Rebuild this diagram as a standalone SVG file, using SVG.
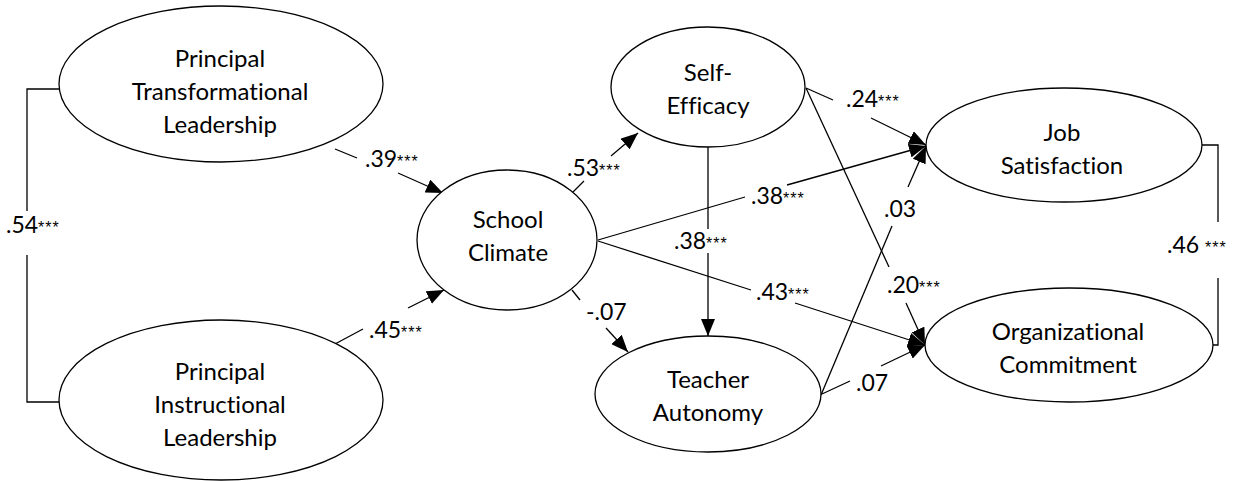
<svg xmlns="http://www.w3.org/2000/svg" width="1236" height="481" viewBox="0 0 1236 481">
<style>
.n{fill:#fff;stroke:#000;stroke-width:1.3}
.t{font-family:Lato,"Liberation Sans",sans-serif;font-size:24px;fill:#000;text-anchor:middle;font-variant-ligatures:none}
.l{font-family:Lato,"Liberation Sans",sans-serif;font-size:23px;fill:#000}
.s{font-family:"Liberation Sans",Arial,sans-serif;font-size:16px;letter-spacing:1px}
.c{fill:none;stroke:#000;stroke-width:1.3}
</style>
<defs>
<marker id="ah" markerUnits="userSpaceOnUse" markerWidth="18" markerHeight="14" refX="17" refY="7" orient="auto">
<path d="M0,0 L17,7 L0,14 z" fill="#000"/>
</marker>
</defs>
<g id="connectors">
<polyline class="c" points="59,89 27,89 27,211"/>
<polyline class="c" points="27,255 27,402 59,402"/>
<polyline class="c" points="1202,145 1218,145 1218,222"/>
<polyline class="c" points="1218,278 1218,345 1213,345"/>
<line class="c" x1="335" y1="149" x2="357" y2="158"/>
<line class="c" x1="398" y1="173" x2="443" y2="193" marker-end="url(#ah)"/>
<line class="c" x1="335" y1="344" x2="363" y2="329"/>
<line class="c" x1="408" y1="308" x2="444" y2="290" marker-end="url(#ah)"/>
<line class="c" x1="573" y1="192" x2="584" y2="181"/>
<line class="c" x1="611" y1="156" x2="638" y2="133" marker-end="url(#ah)"/>
<line class="c" x1="708" y1="147" x2="708" y2="229"/>
<line class="c" x1="708" y1="253" x2="708" y2="336" marker-end="url(#ah)"/>
<line class="c" x1="598" y1="240" x2="745" y2="197"/>
<line class="c" x1="787" y1="185" x2="926" y2="146" marker-end="url(#ah)"/>
<line class="c" x1="598" y1="241" x2="751" y2="290"/>
<line class="c" x1="795" y1="303" x2="925" y2="345" marker-end="url(#ah)"/>
<line class="c" x1="572" y1="290" x2="580" y2="300"/>
<line class="c" x1="606" y1="328" x2="628" y2="352" marker-end="url(#ah)"/>
<line class="c" x1="806" y1="88" x2="833" y2="100"/>
<line class="c" x1="871" y1="118" x2="926" y2="145" marker-end="url(#ah)"/>
<line class="c" x1="806" y1="88" x2="889" y2="267"/>
<line class="c" x1="906" y1="303" x2="925" y2="345" marker-end="url(#ah)"/>
<line class="c" x1="821" y1="395" x2="892" y2="226"/>
<line class="c" x1="908" y1="187" x2="926" y2="146" marker-end="url(#ah)"/>
<line class="c" x1="822" y1="394" x2="850" y2="381"/>
<line class="c" x1="881" y1="366" x2="925" y2="345" marker-end="url(#ah)"/>
</g>
<g id="labels">
<text class="l" x="6" y="233">.54<tspan class="s">***</tspan></text>
<text class="l" x="365" y="167">.39<tspan class="s">***</tspan></text>
<text class="l" x="369" y="338">.45<tspan class="s">***</tspan></text>
<text class="l" x="567" y="176">.53<tspan class="s">***</tspan></text>
<text class="l" x="674" y="249">.38<tspan class="s">***</tspan></text>
<text class="l" x="751" y="204">.38<tspan class="s">***</tspan></text>
<text class="l" x="756" y="300">.43<tspan class="s">***</tspan></text>
<text class="l" x="586" y="320">-.07</text>
<text class="l" x="846" y="107">.24<tspan class="s">***</tspan></text>
<text class="l" x="884" y="217">.03</text>
<text class="l" x="887" y="293">.20<tspan class="s">***</tspan></text>
<text class="l" x="856" y="391">.07</text>
<text class="l" x="1167" y="253">.46 <tspan class="s">***</tspan></text>
</g>
<g id="ptl">
<ellipse class="n" cx="221" cy="84" rx="162" ry="78"/>
<text class="t" x="220" y="66.5">Principal</text>
<text class="t" x="220" y="99.5">Transformational</text>
<text class="t" x="220" y="132.5">Leadership</text>
</g>
<g id="pil">
<ellipse class="n" cx="221" cy="400" rx="162" ry="80"/>
<text class="t" x="220" y="380">Principal</text>
<text class="t" x="220" y="413">Instructional</text>
<text class="t" x="220" y="446">Leadership</text>
</g>
<g id="sc">
<ellipse class="n" cx="507" cy="240" rx="90" ry="70"/>
<text class="t" x="508" y="228">School</text>
<text class="t" x="508" y="261">Climate</text>
</g>
<g id="se">
<ellipse class="n" cx="708" cy="87" rx="97" ry="60"/>
<text class="t" x="708" y="81">Self-</text>
<text class="t" x="708" y="114">Efficacy</text>
</g>
<g id="ta">
<ellipse class="n" cx="708" cy="394" rx="113" ry="58"/>
<text class="t" x="708" y="388">Teacher</text>
<text class="t" x="708" y="421">Autonomy</text>
</g>
<g id="js">
<ellipse class="n" cx="1064" cy="145" rx="138" ry="57"/>
<text class="t" x="1062" y="141">Job</text>
<text class="t" x="1062" y="174">Satisfaction</text>
</g>
<g id="oc">
<ellipse class="n" cx="1069" cy="345" rx="144" ry="57"/>
<text class="t" x="1068" y="340">Organizational</text>
<text class="t" x="1068" y="373">Commitment</text>
</g>
</svg>
